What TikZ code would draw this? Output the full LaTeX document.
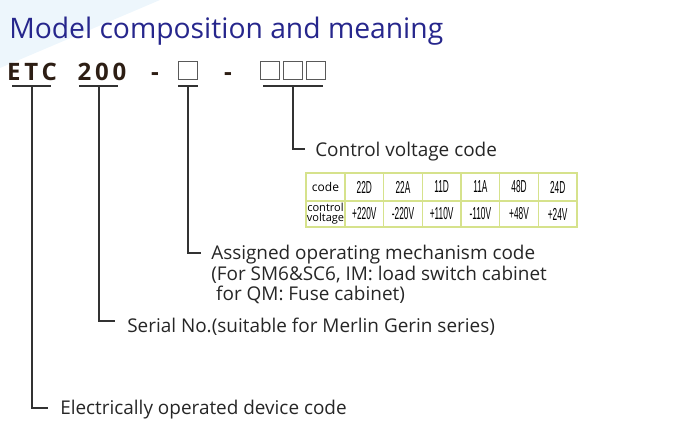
\documentclass[tikz,border=0pt]{standalone}
\usepackage{fontspec}
\setmainfont{Open Sans}
\newfontfamily\codefont[LetterSpace=16]{Open Sans}
\newfontfamily\narrowfont[FakeStretch=0.48]{Liberation Sans}
\usetikzlibrary{positioning}
\definecolor{mytitle}{RGB}{38,38,140}
\definecolor{myink}{RGB}{45,30,20}
\definecolor{myline}{RGB}{50,50,50}
\definecolor{mygrid}{RGB}{214,226,140}
\definecolor{myback}{RGB}{237,246,252}
\tikzstyle{label}=[inner sep=0pt,anchor=base west,font=\fontsize{14.2}{16}\selectfont,text=black!85]
\tikzstyle{codetext}=[inner sep=0pt,anchor=base,font=\codefont\bfseries\fontsize{18}{20}\selectfont,text=myink]
\tikzstyle{slot}=[draw=black!65,line width=0.9pt,minimum size=14pt,inner sep=0pt]
\tikzstyle{cell}=[draw=mygrid,line width=1.2pt,minimum height=21pt,inner sep=0pt,font=\narrowfont\fontsize{13}{13}\selectfont]
\tikzstyle{lead}=[myline,line width=1pt]
\begin{document}
\begin{tikzpicture}[x=0.75pt,y=-0.75pt]
\useasboundingbox (0,0) rectangle (682,440);
\fill[myback] (0,0) -- (160,0) -- (0,68) -- cycle;
% title
\draw (9,38) node [inner sep=0pt,anchor=base west,font=\fontsize{21.2}{24}\selectfont,text=mytitle] (title) {Model composition and meaning};
% model code
\draw (32,80) node [codetext] (etc) {ETC};
\draw (102,80) node [codetext] (num) {200};
\draw (155,80) node [codetext] (d1) {-};
\draw (188,70.5) node [slot] (s1) {};
\draw (228,80) node [codetext] (d2) {-};
\draw (270,70.5) node [slot] (s2) {};
\draw (293,70.5) node [slot] (s3) {};
\draw (316,70.5) node [slot] (s4) {};
% underlines
\coordinate (u1a) at (12,86); \coordinate (u1b) at (51,86);
\coordinate (u2a) at (79,86); \coordinate (u2b) at (118,86);
\coordinate (u3a) at (178,86); \coordinate (u3b) at (198,86);
\coordinate (u4a) at (263,86); \coordinate (u4b) at (323,86);
\draw [lead] (u1a) -- (u1b);
\draw [lead] (u2a) -- (u2b);
\draw [lead] (u3a) -- (u3b);
\draw [lead] (u4a) -- (u4b);
% leaders
\coordinate (c1) at (32,408); \coordinate (e1) at (48,408);
\coordinate (c2) at (99,321); \coordinate (e2) at (115,321);
\coordinate (c3) at (188,253); \coordinate (e3) at (201,253);
\coordinate (c4) at (293,149); \coordinate (e4) at (305,149);
\draw [lead] (32,86) -- (c1) -- (e1);
\draw [lead] (99,86) -- (c2) -- (e2);
\draw [lead] (188,86) -- (c3) -- (e3);
\draw [lead] (293,86) -- (c4) -- (e4);
% labels
\draw (315,156) node [label] (l4) {Control voltage code};
\draw (211,259) node [label] (l3a) {Assigned operating mechanism code};
\draw (211,280) node [label] (l3b) {(For SM6\&SC6, IM: load switch cabinet};
\draw (211,300) node [label] (l3c) {\ for QM: Fuse cabinet)};
\draw (127,332) node [label] (l2) {Serial No.(suitable for Merlin Gerin series)};
\draw (60,414) node [label] (l1) {Electrically operated device code};
% voltage table
\draw (325.5,187) node [cell,minimum width=29.25pt,font=\fontsize{9}{9}\selectfont] (h0) {code};
\draw (325.5,214) node [cell,minimum width=29.25pt,minimum height=19.5pt,align=center,font=\fontsize{8.3}{7.4}\selectfont] (v0) {control\\voltage};
\foreach \i/\c/\v in {1/22D/+220V,2/22A/-220V,3/11D/+110V,4/11A/-110V,5/48D/+48V,6/24D/+24V}{
  \draw (345+38.67*\i-19.33,187) node [cell,minimum width=29pt] (h\i) {\c};
  \draw (345+38.67*\i-19.33,214) node [cell,minimum width=29pt,minimum height=19.5pt] (v\i) {\v};
}
\end{tikzpicture}
\end{document}
